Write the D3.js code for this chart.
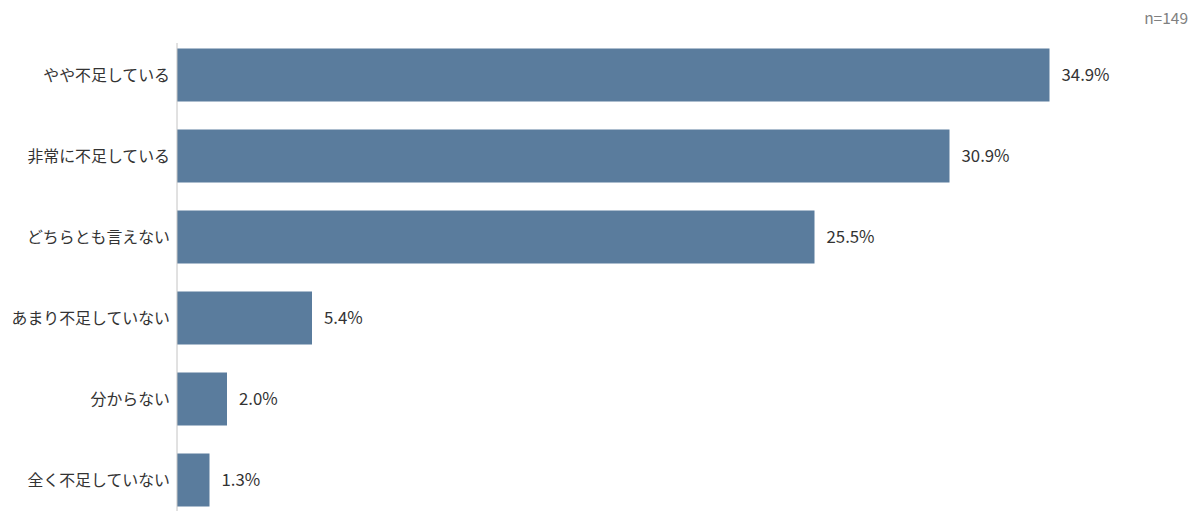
<!DOCTYPE html>
<html><head><meta charset="utf-8">
<script src="https://cdn.jsdelivr.net/npm/d3@7"></script>
<style>
html,body{margin:0;padding:0;background:#fff;}
svg{display:block;font-family:"Noto Sans CJK JP","Noto Sans",sans-serif;}
</style></head>
<body>
<svg id="chart" width="1200" height="522"></svg>
<script>
const categories = ["やや不足している","非常に不足している","どちらとも言えない","あまり不足していない","分からない","全く不足していない"];
const values = [34.9, 30.9, 25.5, 5.4, 2.0, 1.3];
const valueLabels = ["34.9%","30.9%","25.5%","5.4%","2.0%","1.3%"];
const sampleNote = "n=149";

const svg = d3.select("#chart");
const x = d3.scaleLinear().domain([0, 40]).range([177, 1177]);
const y = d3.scaleBand().domain(categories).range([34.5, 520.5]).paddingInner(28/81).paddingOuter(14/81);

svg.selectAll("rect.bar").data(values).enter().append("rect")
  .attr("class","bar")
  .attr("x", x(0))
  .attr("y", (d,i)=>y(categories[i]))
  .attr("width", d=>x(d)-x(0))
  .attr("height", y.bandwidth())
  .attr("fill","#5a7c9d");

svg.append("line")
  .attr("x1", x(0)).attr("x2", x(0))
  .attr("y1", 43).attr("y2", 511)
  .attr("stroke","#c4c4c4").attr("stroke-width",1);

svg.selectAll("text.cat").data(categories).enter().append("text")
  .attr("class","cat")
  .attr("x", x(0)-7)
  .attr("y", d=>y(d)+y.bandwidth()/2)
  .attr("dy","0.36em")
  .attr("text-anchor","end")
  .attr("font-size","15.9px")
  .attr("fill","#333")
  .text(d=>d);

svg.selectAll("text.val").data(values).enter().append("text")
  .attr("class","val")
  .attr("x", d=>x(d)+12)
  .attr("y", (d,i)=>y(categories[i])+y.bandwidth()/2)
  .attr("dy","0.36em")
  .attr("font-size","16.8px")
  .attr("fill","#333")
  .text((d,i)=>valueLabels[i]);

svg.append("text")
  .attr("x", 1188).attr("y", 18)
  .attr("dy","0.36em")
  .attr("text-anchor","end")
  .attr("font-size","15.5px")
  .attr("fill","#808080")
  .text(sampleNote);
</script>
</body></html>
